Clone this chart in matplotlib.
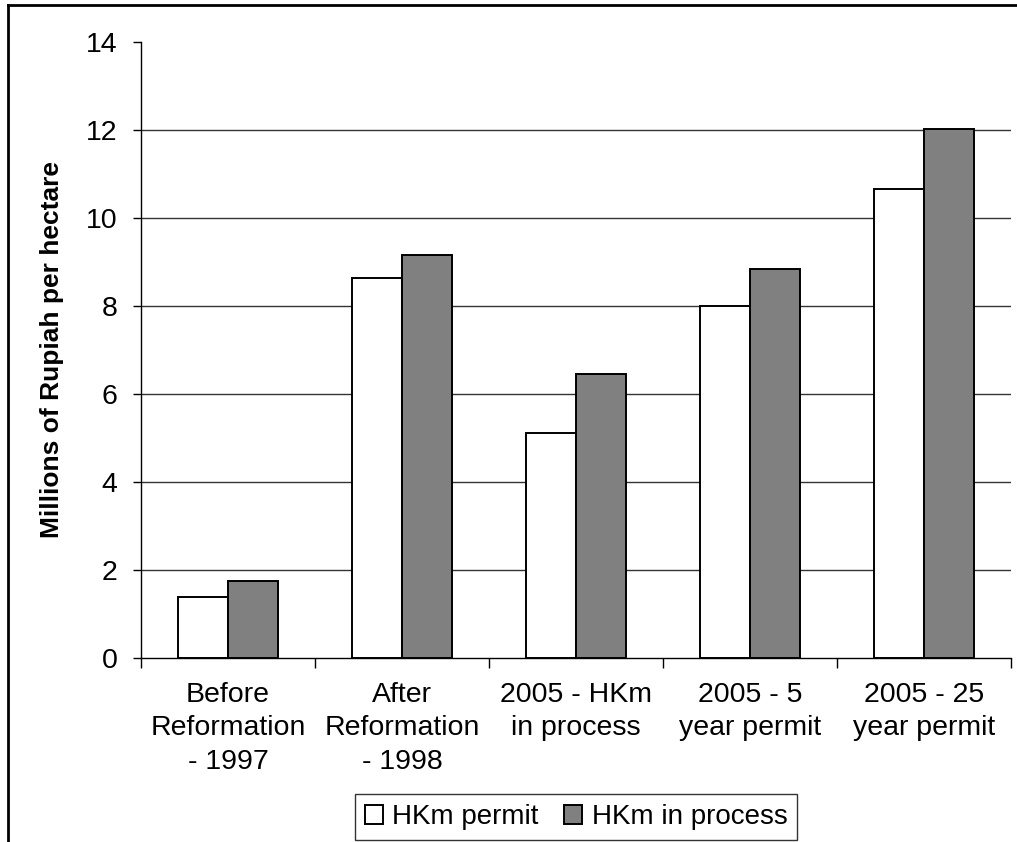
import matplotlib
matplotlib.use("Agg")
import matplotlib.pyplot as plt
from matplotlib.lines import Line2D
import numpy as np

categories = ["Before\nReformation\n- 1997", "After\nReformation\n- 1998",
              "2005 - HKm\nin process", "2005 - 5\nyear permit", "2005 - 25\nyear permit"]
hkm_permit = [1.39, 8.64, 5.12, 8.0, 10.67]
hkm_in_process = [1.76, 9.16, 6.45, 8.83, 12.03]
series_names = ["HKm permit", "HKm in process"]
yticks = [0, 2, 4, 6, 8, 10, 12, 14]

plt.rcParams['font.family'] = ['Liberation Sans', 'DejaVu Sans']

W, H = 1017, 842
fig = plt.figure(figsize=(W / 100, H / 100), dpi=100)
ax = fig.add_axes([141 / W, 1 - 658 / H, (1011 - 141) / W, (658 - 42) / H])

x = np.arange(len(categories))
bw = 0.288
ax.bar(x - bw / 2, hkm_permit, bw, color='white', edgecolor='black', linewidth=1.4,
       label=series_names[0], zorder=3)
ax.bar(x + bw / 2, hkm_in_process, bw, color='#808080', edgecolor='black', linewidth=1.4,
       label=series_names[1], zorder=3)

ax.set_xlim(-0.5, len(categories) - 0.5)
ax.set_ylim(0, 14)
ax.set_yticks(yticks)
ax.set_yticklabels([str(v) for v in yticks], fontsize=20.5)
ax.tick_params(axis='y', direction='out', length=6, width=1, pad=11)

ax.set_xticks(np.arange(len(categories) + 1) - 0.5)
ax.set_xticklabels([])
ax.tick_params(axis='x', which='major', direction='out', length=7, width=1)
ax.set_xticks(x, minor=True)
ax.set_xticklabels(categories, minor=True, fontsize=20.5, linespacing=1.38)
ax.tick_params(axis='x', which='minor', length=0, pad=17)

ax.yaxis.grid(True, color='#333333', linewidth=1.0, zorder=0)
ax.set_axisbelow(True)
gl = ax.get_ygridlines()
gl[0].set_visible(False)
gl[-1].set_visible(False)

for s in ['top', 'right']:
    ax.spines[s].set_visible(False)
for s in ['left', 'bottom']:
    ax.spines[s].set_linewidth(1.0)
    ax.spines[s].set_color('black')

ax.set_ylabel("Millions of Rupiah per hectare", fontsize=19, fontweight='bold', labelpad=16)

leg = fig.legend(loc='center', bbox_to_anchor=(576 / W, 1 - 817 / H), ncol=2,
                 fontsize=20, frameon=True, fancybox=False, edgecolor='black',
                 handlelength=0.65, handleheight=0.65, handletextpad=0.35,
                 columnspacing=0.9, borderpad=0.35, borderaxespad=0)
leg.get_frame().set_linewidth(1.0)

# outer chart-area frame (top and left edges visible)
fig.add_artist(Line2D([7.5 / W, 1.0], [1 - 4.5 / H, 1 - 4.5 / H], color='black', linewidth=2,
                      transform=fig.transFigure))
fig.add_artist(Line2D([7.5 / W, 7.5 / W], [0, 1 - 4.5 / H], color='black', linewidth=2,
                      transform=fig.transFigure))

fig.savefig("out.png", dpi=100)
